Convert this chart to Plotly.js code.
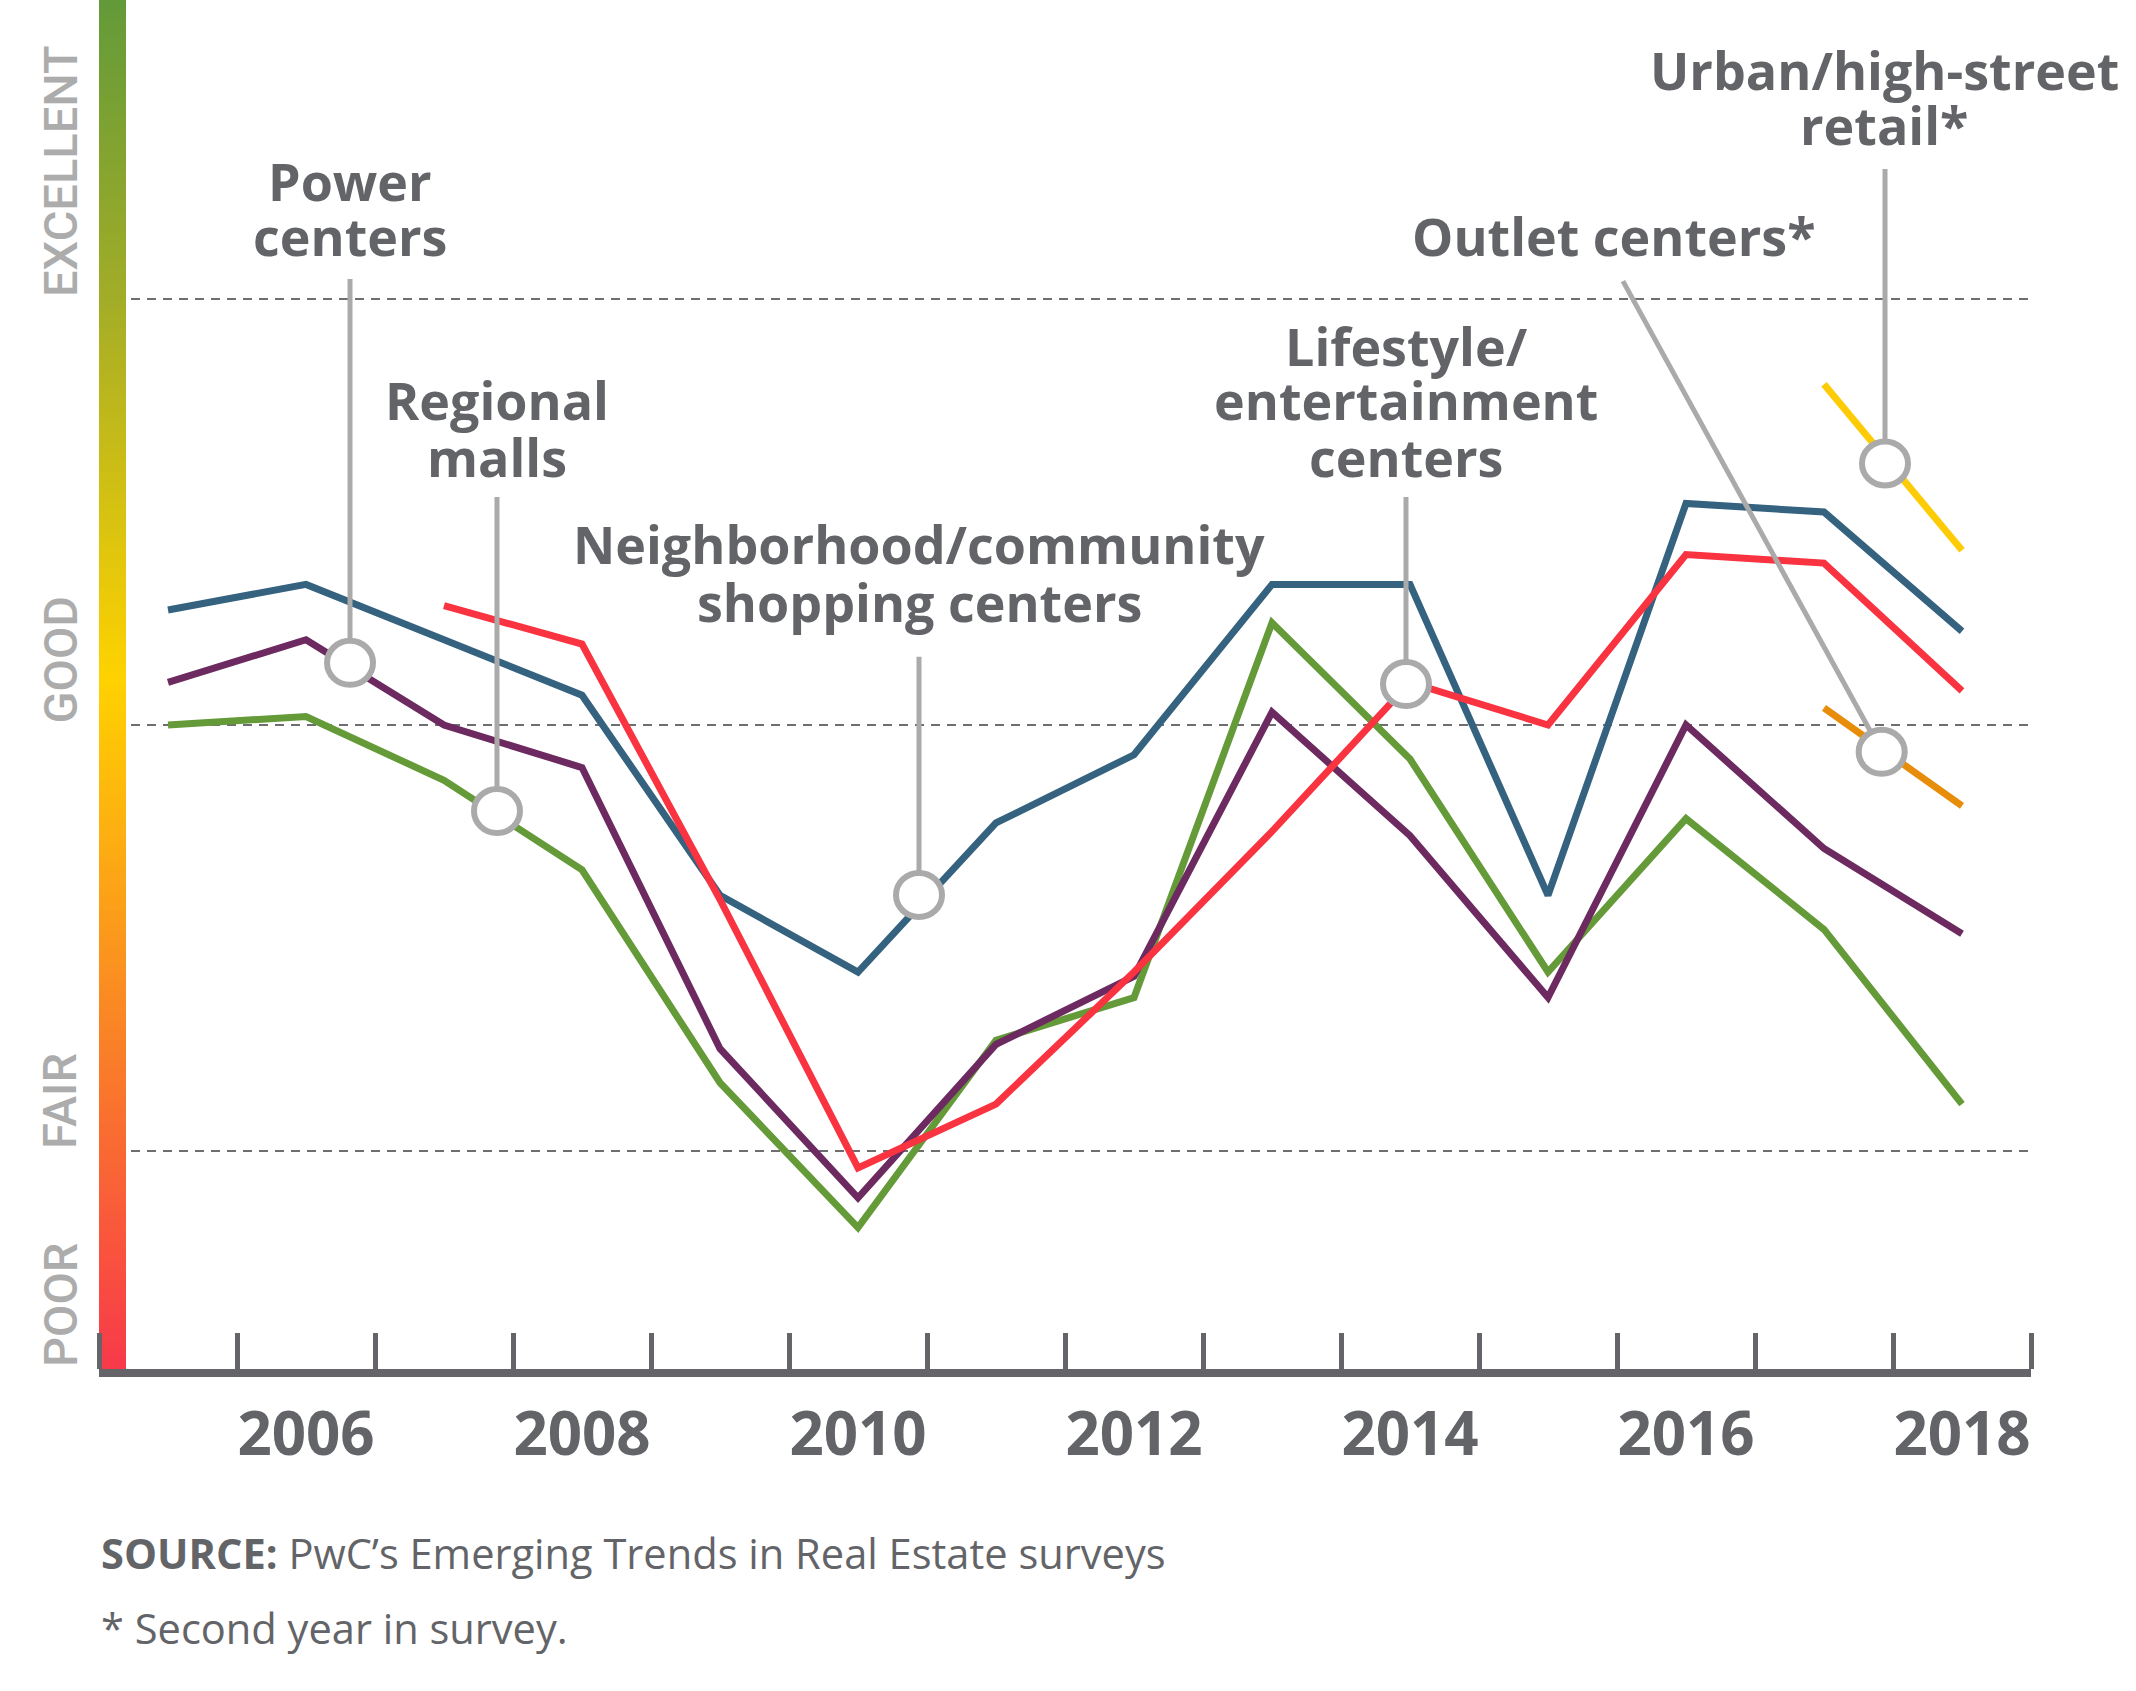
<!DOCTYPE html>
<html>
<head>
<meta charset="utf-8">
<script src="https://cdn.plot.ly/plotly-3.0.1.min.js"></script>
<style>
  html, body { margin: 0; padding: 0; background: #ffffff; }
  #chart { width: 2136px; height: 1691px; }
</style>
</head>
<body>
<div id="chart"></div>
<script>
// ---------------- DATA ----------------
const years = [2005, 2006, 2007, 2008, 2009, 2010, 2011, 2012, 2013, 2014, 2015, 2016, 2017, 2018];
const yearTickLabels = ['2006', '2008', '2010', '2012', '2014', '2016', '2018'];

const regionalMalls     = [4.00, 4.02, 3.87, 3.66, 3.16, 2.82, 3.26, 3.36, 4.24, 3.92, 3.42, 3.78, 3.52, 3.11];
const powerCenters      = [4.10, 4.20, 4.00, 3.90, 3.24, 2.89, 3.25, 3.41, 4.03, 3.74, 3.36, 4.00, 3.71, 3.51];
const neighborhood      = [4.27, 4.33, 4.20, 4.07, 3.60, 3.42, 3.77, 3.93, 4.33, 4.33, 3.60, 4.52, 4.50, 4.22];
const lifestyle         = [null, null, 4.28, 4.19, 3.59, 2.96, 3.11, 3.42, 3.75, 4.10, 4.00, 4.40, 4.38, 4.08];
const outletCenters     = [null, null, null, null, null, null, null, null, null, null, null, null, 4.04, 3.81];
const urbanRetail       = [null, null, null, null, null, null, null, null, null, null, null, null, 4.80, 4.41];

const ratingLabels = ['POOR', 'FAIR', 'GOOD', 'EXCELLENT'];
const ratingValues = [3, 4, 5];   // FAIR, GOOD, EXCELLENT grid lines

// ---------------- STYLE / LAYOUT ----------------
const TEXT = '#636468';
const CALLOUT = '#aaaaaa';
const yMin = 2.488, yMax = 5.702;
const xMin = years[0] - 0.5, xMax = years[years.length - 1] + 0.5;

const seriesDefs = [
  { name: 'Regional malls', y: regionalMalls, color: '#659a39' },
  { name: 'Power centers', y: powerCenters, color: '#6c2a60' },
  { name: 'Neighborhood/community shopping centers', y: neighborhood, color: '#34627f' },
  { name: 'Lifestyle/entertainment centers', y: lifestyle, color: '#f93340' },
  { name: 'Outlet centers*', y: outletCenters, color: '#e88d0a' },
  { name: 'Urban/high-street retail*', y: urbanRetail, color: '#fdcc07' }
];

const traces = [];

// gradient rating bar (decorative), built on the y scale
const barRows = 200;
const barYEdges = [], barZ = [];
for (let i = 0; i <= barRows; i++) barYEdges.push(yMin + (yMax - yMin) * i / barRows);
for (let i = 0; i < barRows; i++) barZ.push([(barYEdges[i] + barYEdges[i + 1]) / 2]);
traces.push({
  type: 'heatmap',
  x: [xMin, xMin + 27 / 138],
  y: barYEdges,
  z: barZ,
  zmin: yMin, zmax: yMax,
  colorscale: [[0, '#f8394a'], [0.25, '#fa8426'], [0.505, '#ffd200'], [0.78, '#a3ad27'], [1, '#629a39']],
  showscale: false,
  hoverinfo: 'skip'
});

seriesDefs.forEach(s => {
  traces.push({
    type: 'scatter', mode: 'lines', name: s.name,
    x: years, y: s.y,
    line: { color: s.color, width: 7 },
    connectgaps: false,
    hoverinfo: 'x+y+name'
  });
});

// callouts: label lines (text), circle position, line top
const callouts = [
  { lines: ['Power', 'centers'], tx: 2006.319, ty: [5.279, 5.148], cx: 2006.319, cy: 4.146, lx: 2006.319, ly: 5.047 },
  { lines: ['Regional', 'malls'], tx: 2007.384, ty: [4.763, 4.631], cx: 2007.384, cy: 3.798, lx: 2007.384, ly: 4.535 },
  { lines: ['Neighborhood/community', 'shopping centers'], tx: 2010.442, ty: [4.427, 4.291], cx: 2010.442, cy: 3.601, lx: 2010.442, ly: 4.160 },
  { lines: ['Lifestyle/', 'entertainment', 'centers'], tx: 2013.971, ty: [4.892, 4.763, 4.631], cx: 2013.971, cy: 4.096, lx: 2013.971, ly: 4.535 },
  { lines: ['Outlet centers*'], tx: 2015.478, ty: [5.148], cx: 2017.418, cy: 3.937, lx: 2015.543, ly: 5.042 },
  { lines: ['Urban/high-street', 'retail*'], tx: 2017.435, ty: [5.540, 5.409], cx: 2017.442, cy: 4.614, lx: 2017.442, ly: 5.305 }
];

const annotations = [];
const shapes = [];

callouts.forEach(c => {
  c.lines.forEach((t, i) => {
    annotations.push({
      text: t, xref: 'x', yref: 'y', x: c.tx, y: c.ty[i],
      xanchor: 'center', yanchor: 'middle', showarrow: false,
      font: { family: 'Open Sans, sans-serif', size: 52, color: TEXT, weight: 700 }
    });
  });
  shapes.push({
    type: 'line', xref: 'x', yref: 'y', x0: c.lx, y0: c.ly, x1: c.cx, y1: c.cy,
    line: { color: CALLOUT, width: 5 }, layer: 'above'
  });
  shapes.push({
    type: 'circle', xref: 'x', yref: 'y',
    xsizemode: 'pixel', ysizemode: 'pixel', xanchor: c.cx, yanchor: c.cy,
    x0: -23, x1: 23, y0: -22, y1: 22,
    fillcolor: '#ffffff', line: { color: CALLOUT, width: 6 }, layer: 'above'
  });
});

// rotated rating labels
const ratingAnchors = [yMin].concat(ratingValues);
ratingLabels.forEach((t, i) => {
  annotations.push({
    text: t, xref: 'paper', yref: 'y', x: -0.0202, y: ratingAnchors[i],
    xanchor: 'center', yanchor: 'bottom', textangle: -90, showarrow: false,
    font: { family: 'Roboto, sans-serif', size: 47, color: '#acacac', weight: 500 }
  });
});

// footer
annotations.push({
  text: '<b>SOURCE:</b> PwC’s Emerging Trends in Real Estate surveys',
  xref: 'paper', yref: 'paper', x: 0.0, y: -0.1344, xanchor: 'left', yanchor: 'middle',
  showarrow: false, font: { family: 'Open Sans, sans-serif', size: 41.6, color: TEXT }
});
annotations.push({
  text: '* Second year in survey.',
  xref: 'paper', yref: 'paper', x: 0.0, y: -0.1892, xanchor: 'left', yanchor: 'middle',
  showarrow: false, font: { family: 'Open Sans, sans-serif', size: 41.6, color: TEXT }
});

const halfYears = [xMin].concat(years.map(y => y + 0.5));

const layout = {
  width: 2136, height: 1691,
  margin: { l: 99, r: 105, t: 0, b: 322 },
  paper_bgcolor: '#ffffff', plot_bgcolor: '#ffffff',
  showlegend: false,
  xaxis: {
    range: [xMin, xMax], fixedrange: true,
    tickmode: 'array', tickvals: yearTickLabels.map(Number), ticktext: yearTickLabels,
    ticks: '', ticklabelstandoff: 6,
    tickfont: { family: 'Open Sans, sans-serif', size: 60, color: TEXT, weight: 700 },
    showgrid: false, zeroline: false,
    showline: true, linecolor: '#646469', linewidth: 8,
    minor: { tickmode: 'array', tickvals: halfYears, ticks: 'inside', ticklen: 36, tickwidth: 5, tickcolor: '#646469', showgrid: false }
  },
  yaxis: {
    range: [yMin, yMax], fixedrange: true,
    tickmode: 'array', tickvals: ratingValues, showticklabels: false, ticks: '',
    showgrid: true, gridcolor: '#6e6e71', gridwidth: 2, griddash: '9px,7px',
    zeroline: false, showline: false
  },
  annotations: annotations,
  shapes: shapes
};

Plotly.newPlot('chart', traces, layout, { displayModeBar: false, staticPlot: true });
</script>
</body>
</html>
